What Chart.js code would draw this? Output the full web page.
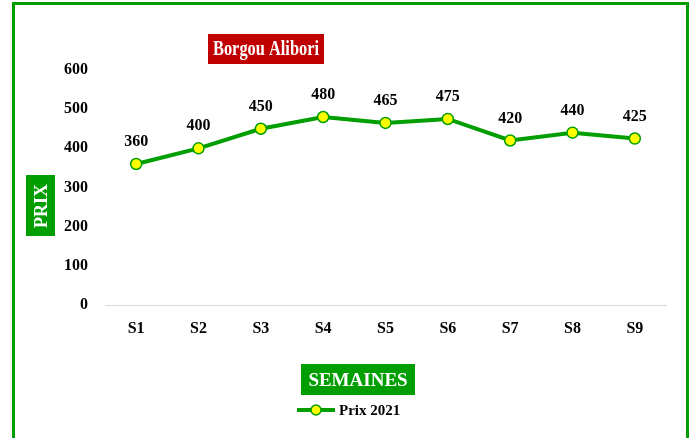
<!DOCTYPE html>
<html>
<head>
<meta charset="utf-8">
<script src="https://cdn.jsdelivr.net/npm/chart.js@4/dist/chart.umd.min.js"></script>
<style>
  html, body { margin: 0; padding: 0; background: #fff; overflow: hidden; }
  #wrap { position: relative; width: 692px; height: 438px; }
  #frame { position: absolute; left: 12px; top: 2px; width: 671px; height: 460px; border: 3px solid #009e00; box-sizing: content-box; pointer-events: none; }
</style>
</head>
<body>
<div id="wrap">
  <canvas id="chart" width="692" height="438"></canvas>
  <div id="frame"></div>
</div>
<script>
// données du graphique
const semaines = ['S1', 'S2', 'S3', 'S4', 'S5', 'S6', 'S7', 'S8', 'S9'];
const prix2021 = [360, 400, 450, 480, 465, 475, 420, 440, 425];
const titre = 'Borgou Alibori';
const titreY = 'PRIX';
const titreX = 'SEMAINES';
const nomSerie = 'Prix 2021';

const vert = '#009e00';
const police = '"Liberation Serif", "DejaVu Serif", serif';

// étiquettes, titres et légende dessinés sur le canvas
const habillage = {
  id: 'habillage',
  afterDatasetsDraw(chart) {
    const ctx = chart.ctx;
    ctx.save();

    // valeurs au-dessus des points
    const meta = chart.getDatasetMeta(0);
    ctx.fillStyle = '#000';
    ctx.font = 'bold 16px ' + police;
    ctx.textAlign = 'center';
    ctx.textBaseline = 'bottom';
    meta.data.forEach(function (pt, i) {
      ctx.fillText(String(prix2021[i]), pt.x, pt.y - 14);
    });

    // titre (police un peu resserrée)
    ctx.fillStyle = '#c00000';
    ctx.fillRect(208, 34, 116, 30);
    ctx.fillStyle = '#fff';
    ctx.font = 'bold 21px ' + police;
    ctx.textBaseline = 'middle';
    const larg = ctx.measureText(titre).width;
    ctx.save();
    ctx.translate(266, 50);
    ctx.scale(Math.min(1, 106 / larg), 1);
    ctx.fillText(titre, 0, 0);
    ctx.restore();

    // titre axe Y
    ctx.fillStyle = vert;
    ctx.fillRect(26, 175, 29, 61);
    ctx.save();
    ctx.translate(41, 206);
    ctx.rotate(-Math.PI / 2);
    ctx.fillStyle = '#fff';
    ctx.font = 'bold 18px ' + police;
    ctx.fillText(titreY, 0, 1);
    ctx.restore();

    // titre axe X
    ctx.fillStyle = vert;
    ctx.fillRect(301, 364, 114, 31);
    ctx.fillStyle = '#fff';
    ctx.font = 'bold 19px ' + police;
    ctx.fillText(titreX, 358, 381);

    // légende
    ctx.strokeStyle = vert;
    ctx.lineWidth = 4;
    ctx.beginPath();
    ctx.moveTo(297, 410);
    ctx.lineTo(335, 410);
    ctx.stroke();
    ctx.beginPath();
    ctx.arc(316, 410, 5, 0, Math.PI * 2);
    ctx.fillStyle = '#ffff00';
    ctx.fill();
    ctx.lineWidth = 1.5;
    ctx.stroke();
    ctx.fillStyle = '#000';
    ctx.font = 'bold 15px ' + police;
    ctx.textAlign = 'left';
    ctx.fillText(nomSerie, 339, 411);

    ctx.restore();
  }
};

new Chart(document.getElementById('chart').getContext('2d'), {
  type: 'line',
  data: {
    labels: semaines,
    datasets: [{
      label: nomSerie,
      data: prix2021,
      borderColor: vert,
      borderWidth: 4,
      backgroundColor: '#ffff00',
      pointBackgroundColor: '#ffff00',
      pointBorderColor: vert,
      pointBorderWidth: 1.5,
      pointRadius: 5.5,
      tension: 0
    }]
  },
  options: {
    responsive: false,
    animation: false,
    layout: { padding: { top: 70, right: 26, left: 0, bottom: 0 } },
    plugins: {
      legend: { display: false },
      title: { display: false },
      tooltip: { enabled: false }
    },
    scales: {
      x: {
        offset: true,
        grid: { display: false, drawTicks: false },
        border: { display: true, color: '#d9d9d9', width: 1 },
        ticks: { color: '#000', padding: 14, font: { family: police, size: 16, weight: 'bold' } },
        afterFit(scale) { scale.height = 133; }
      },
      y: {
        min: 0,
        max: 600,
        grid: { display: false, drawTicks: false },
        border: { display: false },
        ticks: { stepSize: 100, color: '#000', padding: 17, font: { family: police, size: 16, weight: 'bold' } },
        afterFit(scale) { scale.width = 105; }
      }
    }
  },
  plugins: [habillage]
});
</script>
</body>
</html>
